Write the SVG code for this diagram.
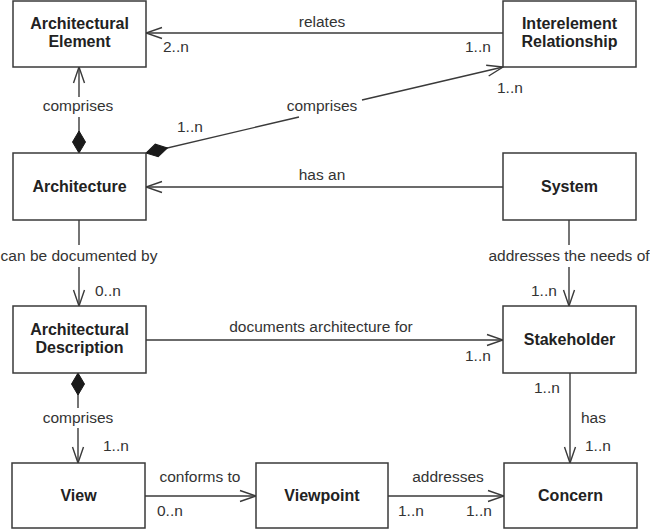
<svg xmlns="http://www.w3.org/2000/svg" width="650" height="530" viewBox="0 0 650 530">
<style>
rect{fill:#fff;stroke:#3a3a3a;stroke-width:1.5}
.n{font-family:"Liberation Sans",Arial,sans-serif;font-weight:bold;font-size:16px;fill:#222;text-anchor:middle}
.l{font-family:"Liberation Sans",Arial,sans-serif;font-size:15.5px;fill:#333}
.m{text-anchor:middle}
#connectors path{fill:none;stroke:#3a3a3a;stroke-width:1.4}
</style>
<defs>
<marker id="arr" markerUnits="userSpaceOnUse" markerWidth="20" markerHeight="14" viewBox="-17 -7 18 14" refX="0" refY="0" orient="auto">
<path d="M-16,-5.5 L0,0 L-16,5.5" fill="none" stroke="#3a3a3a" stroke-width="1.4"/>
</marker>
<marker id="dia" markerUnits="userSpaceOnUse" markerWidth="24" markerHeight="16" viewBox="-1 -8 24 16" refX="0" refY="0" orient="auto">
<path d="M0,0 L11,-6.5 L22,0 L11,6.5 Z" fill="#1a1a1a" stroke="#1a1a1a" stroke-width="1"/>
</marker>
</defs>
<g id="connectors">
<path d="M503,33 L146,33" marker-end="url(#arr)"/>
<path d="M79,153 L79,117" marker-start="url(#dia)"/>
<path d="M79,97 L79,67" marker-end="url(#arr)"/>
<path d="M146,153 L299,117" marker-start="url(#dia)"/>
<path d="M362,100 L503,67" marker-end="url(#arr)"/>
<path d="M503,187 L146,187" marker-end="url(#arr)"/>
<path d="M79,220 L79,245"/>
<path d="M79,267 L79,306" marker-end="url(#arr)"/>
<path d="M569,220 L569,245"/>
<path d="M569,267 L569,306" marker-end="url(#arr)"/>
<path d="M146,340 L503,340" marker-end="url(#arr)"/>
<path d="M78,373 L78,408" marker-start="url(#dia)"/>
<path d="M78,428 L78,463" marker-end="url(#arr)"/>
<path d="M570,373 L570,463" marker-end="url(#arr)"/>
<path d="M145,496 L256,496" marker-end="url(#arr)"/>
<path d="M388,496 L504,496" marker-end="url(#arr)"/>
<text class="l m" x="322" y="27">relates</text>
<text class="l" x="163" y="52">2..n</text>
<text class="l" x="465" y="52">1..n</text>
<text class="l m" x="78" y="111">comprises</text>
<text class="l m" x="322" y="111">comprises</text>
<text class="l" x="177" y="132">1..n</text>
<text class="l" x="497" y="93">1..n</text>
<text class="l m" x="322" y="180">has an</text>
<text class="l m" x="79" y="261">can be documented by</text>
<text class="l" x="95" y="296">0..n</text>
<text class="l m" x="569" y="261">addresses the needs of</text>
<text class="l" x="531" y="296">1..n</text>
<text class="l m" x="321" y="332">documents architecture for</text>
<text class="l" x="465" y="361">1..n</text>
<text class="l m" x="78" y="423">comprises</text>
<text class="l" x="103" y="451">1..n</text>
<text class="l" x="534" y="393">1..n</text>
<text class="l" x="581" y="423">has</text>
<text class="l" x="585" y="451">1..n</text>
<text class="l m" x="200" y="482">conforms to</text>
<text class="l" x="157" y="516">0..n</text>
<text class="l m" x="448" y="482">addresses</text>
<text class="l" x="398" y="516">1..n</text>
<text class="l" x="466" y="516">1..n</text>
</g>
<g id="architectural-element"><rect x="13" y="1" width="133" height="66"/><text class="n" x="79.5" y="29">Architectural</text><text class="n" x="79.5" y="47">Element</text></g>
<g id="interelement-relationship"><rect x="503" y="1" width="133" height="66"/><text class="n" x="569.5" y="29">Interelement</text><text class="n" x="569.5" y="47">Relationship</text></g>
<g id="architecture"><rect x="13" y="153" width="133" height="67"/><text class="n" x="79.5" y="192">Architecture</text></g>
<g id="system"><rect x="503" y="153" width="133" height="67"/><text class="n" x="569.5" y="192">System</text></g>
<g id="architectural-description"><rect x="13" y="306" width="133" height="67"/><text class="n" x="79.5" y="334.5">Architectural</text><text class="n" x="79.5" y="352.5">Description</text></g>
<g id="stakeholder"><rect x="503" y="306" width="133" height="67"/><text class="n" x="569.5" y="345">Stakeholder</text></g>
<g id="view"><rect x="12" y="463" width="133" height="65"/><text class="n" x="78.5" y="501">View</text></g>
<g id="viewpoint"><rect x="256" y="463" width="132" height="65"/><text class="n" x="322" y="501">Viewpoint</text></g>
<g id="concern"><rect x="504" y="463" width="133" height="65"/><text class="n" x="570.5" y="501">Concern</text></g>
</svg>
